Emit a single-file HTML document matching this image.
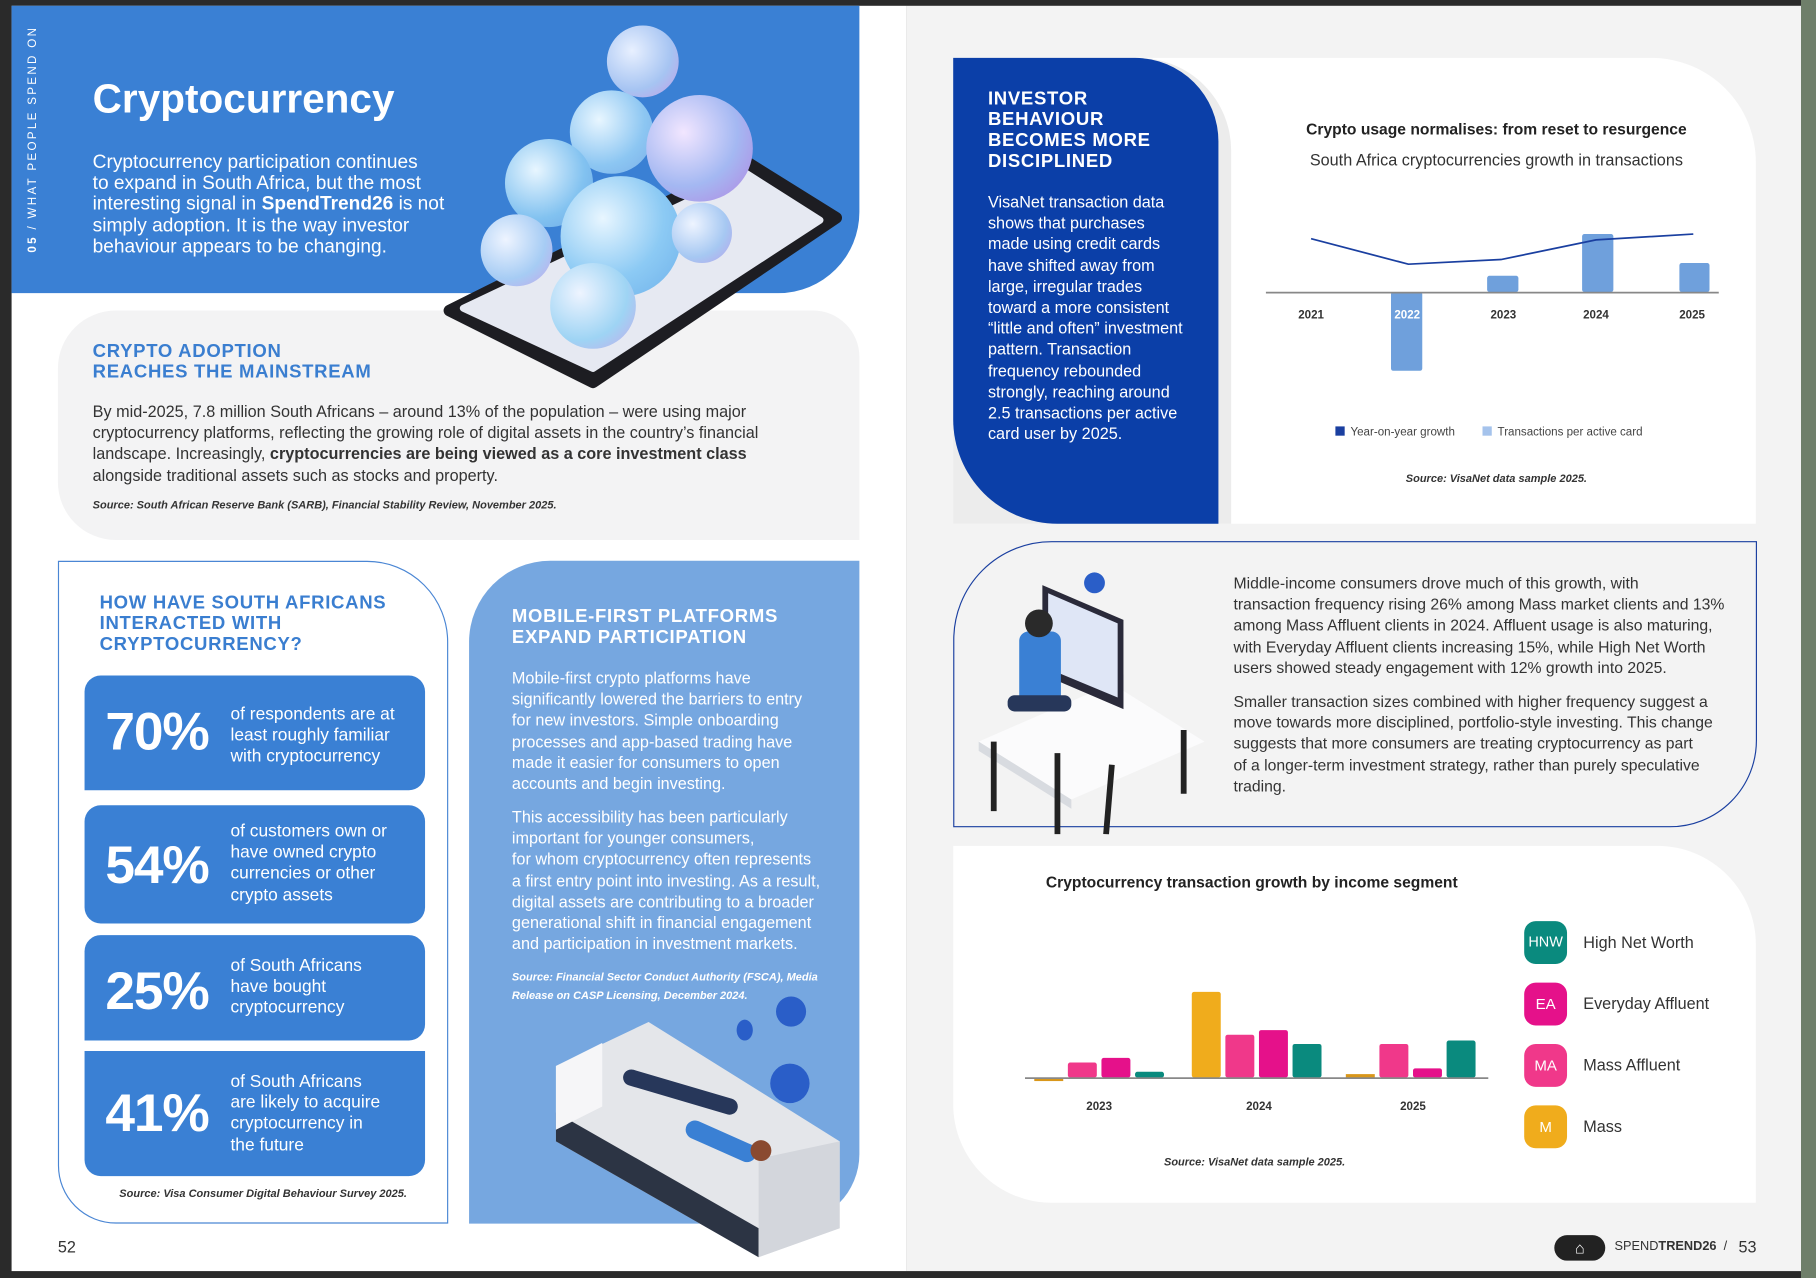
<!DOCTYPE html>
<html><head><meta charset="utf-8">
<style>
*{margin:0;padding:0;box-sizing:border-box}
html,body{width:1816px;height:1278px;overflow:hidden;background:#2a2a2a}
#s{position:absolute;left:0;top:0;width:1568px;height:1103px;transform:scale(1.1582,1.1587);transform-origin:0 0;font-family:"Liberation Sans Narrow","Liberation Sans",sans-serif;color:#333}
.a{position:absolute}
.nw{white-space:nowrap}
.h{font-weight:bold;letter-spacing:0.6px;font-size:16px;line-height:18px}
.p{font-size:14px;line-height:18.2px}
.src{font-style:italic;font-weight:bold;font-size:9.5px;color:#333}
</style></head><body>
<div id="s">
<div class="a" style="left:10px;top:5px;width:773px;height:1092px;background:#fff"></div>
<div class="a" style="left:783px;top:5px;width:772px;height:1092px;background:#f3f3f3"></div>
<div class="a" style="left:1555px;top:0;width:13px;height:1103px;background:#6f7f6a"></div>

<div class="a" style="left:10px;top:5px;width:732px;height:248px;background:#3a80d4;border-bottom-right-radius:70px"></div>
<div class="a nw" style="left:23px;top:218px;transform:rotate(-90deg);transform-origin:0 0;color:#fff;font-family:'Liberation Sans',sans-serif;font-size:10px;letter-spacing:2px;width:180px"><b>05</b> / WHAT PEOPLE SPEND ON</div>
<div class="a nw" style="left:80px;top:66px;color:#fff;font-size:35px;font-weight:bold">Cryptocurrency</div>
<div class="a nw" style="left:80px;top:131px;color:#fff;font-size:16.5px;line-height:18.2px">Cryptocurrency participation continues<br>to expand in South Africa, but the most<br>interesting signal in <b>SpendTrend26</b> is not<br>simply adoption. It is the way investor<br>behaviour appears to be changing.</div>

<div class="a" style="left:50px;top:268px;width:692px;height:198px;background:#f3f3f4;border-radius:50px 40px 0 50px"></div>
<!-- phone -->
<svg class="a" style="left:380px;top:130px" width="350" height="210" viewBox="380 130 350 210">
<polygon points="645,140 722,188 512,330 388,268" fill="#1d1d22" stroke="#1d1d22" stroke-width="10" stroke-linejoin="round"/>
<polygon points="645,150 708,190 512,318 400,266" fill="#e6e9f2" stroke="#e6e9f2" stroke-width="6" stroke-linejoin="round"/>
</svg>
<div class="a" style="left:524px;top:22px;width:62px;height:62px;border-radius:50%;background:radial-gradient(circle at 35% 35%,#e8f0ff,#a6c4f2 60%,#c59be6)"></div>
<div class="a" style="left:492px;top:78px;width:72px;height:72px;border-radius:50%;background:radial-gradient(circle at 35% 35%,#e8f6ff,#8cc6f2 60%,#7aaee8)"></div>
<div class="a" style="left:558px;top:82px;width:92px;height:92px;border-radius:50%;background:radial-gradient(circle at 35% 35%,#f2e6ff,#a4b8f2 55%,#b383e0)"></div>
<div class="a" style="left:436px;top:120px;width:76px;height:76px;border-radius:50%;background:radial-gradient(circle at 35% 35%,#e8f6ff,#82c2f0 60%,#6aa6e6)"></div>
<div class="a" style="left:484px;top:152px;width:104px;height:104px;border-radius:50%;background:radial-gradient(circle at 35% 35%,#e8f6ff,#8ccaf4 55%,#6eb0ea)"></div>
<div class="a" style="left:580px;top:175px;width:52px;height:52px;border-radius:50%;background:radial-gradient(circle at 35% 35%,#eef4ff,#a6c8f2 60%,#b6a0ea)"></div>
<div class="a" style="left:415px;top:185px;width:62px;height:62px;border-radius:50%;background:radial-gradient(circle at 35% 35%,#eef4ff,#a6ccf4 60%,#c4a4ea)"></div>
<div class="a" style="left:475px;top:227px;width:74px;height:74px;border-radius:50%;background:radial-gradient(circle at 35% 35%,#eef4ff,#9ed4f4 60%,#c6a8ea)"></div>

<div class="a nw h" style="left:80px;top:295px;color:#3a7ed0">CRYPTO ADOPTION<br>REACHES THE MAINSTREAM</div>
<div class="a nw p" style="left:80px;top:346px;color:#333">By mid-2025, 7.8 million South Africans – around 13% of the population – were using major<br>cryptocurrency platforms, reflecting the growing role of digital assets in the country’s financial<br>landscape. Increasingly, <b>cryptocurrencies are being viewed as a core investment class</b><br>alongside traditional assets such as stocks and property.</div>
<div class="a nw src" style="left:80px;top:431px">Source: South African Reserve Bank (SARB), Financial Stability Review, November 2025.</div>

<div class="a" style="left:50px;top:484px;width:337px;height:572px;border:1px solid #4a86d4;border-radius:0 70px 0 50px"></div>
<div class="a nw h" style="left:86px;top:512px;color:#3a7ed0">HOW HAVE SOUTH AFRICANS<br>INTERACTED WITH<br>CRYPTOCURRENCY?</div>

<div class="a" style="left:73px;top:583px;width:294px;height:99px;background:#3a80d4;border-radius:14px 14px 14px 0"></div>
<div class="a nw" style="left:91px;top:604px;color:#fff;font-size:46px;font-weight:bold;letter-spacing:-1px">70%</div>
<div class="a nw" style="left:199px;top:608px;color:#fff;font-size:15px;line-height:18.2px">of respondents are at<br>least roughly familiar<br>with cryptocurrency</div>

<div class="a" style="left:73px;top:695px;width:294px;height:102px;background:#3a80d4;border-radius:14px"></div>
<div class="a nw" style="left:91px;top:719px;color:#fff;font-size:46px;font-weight:bold;letter-spacing:-1px">54%</div>
<div class="a nw" style="left:199px;top:709px;color:#fff;font-size:15px;line-height:18.2px">of customers own or<br>have owned crypto<br>currencies or other<br>crypto assets</div>

<div class="a" style="left:73px;top:807px;width:294px;height:91px;background:#3a80d4;border-radius:14px 14px 14px 0"></div>
<div class="a nw" style="left:91px;top:828px;color:#fff;font-size:46px;font-weight:bold;letter-spacing:-1px">25%</div>
<div class="a nw" style="left:199px;top:825px;color:#fff;font-size:15px;line-height:18.2px">of South Africans<br>have bought<br>cryptocurrency</div>

<div class="a" style="left:73px;top:907px;width:294px;height:108px;background:#3a80d4;border-radius:0 0 14px 14px"></div>
<div class="a nw" style="left:91px;top:933px;color:#fff;font-size:46px;font-weight:bold;letter-spacing:-1px">41%</div>
<div class="a nw" style="left:199px;top:925px;color:#fff;font-size:15px;line-height:18.2px">of South Africans<br>are likely to acquire<br>cryptocurrency in<br>the future</div>
<div class="a nw src" style="left:103px;top:1025px">Source: Visa Consumer Digital Behaviour Survey 2025.</div>

<div class="a" style="left:405px;top:484px;width:337px;height:572px;background:#76a7e0;border-radius:70px 0 60px 0"></div>
<div class="a nw h" style="left:442px;top:524px;color:#fff">MOBILE-FIRST PLATFORMS<br>EXPAND PARTICIPATION</div>
<div class="a nw p" style="left:442px;top:576px;color:#fff">Mobile-first crypto platforms have<br>significantly lowered the barriers to entry<br>for new investors. Simple onboarding<br>processes and app-based trading have<br>made it easier for consumers to open<br>accounts and begin investing.</div>
<div class="a nw p" style="left:442px;top:696px;color:#fff">This accessibility has been particularly<br>important for younger consumers,<br>for whom cryptocurrency often represents<br>a first entry point into investing. As a result,<br>digital assets are contributing to a broader<br>generational shift in financial engagement<br>and participation in investment markets.</div>
<div class="a nw src" style="left:442px;top:836px;color:#fff;line-height:16px">Source: Financial Sector Conduct Authority (FSCA), Media<br>Release on CASP Licensing, December 2024.</div>
<!-- sofa -->
<svg class="a" style="left:470px;top:870px" width="280" height="220" viewBox="470 870 280 220">
<polygon points="480,920 560,882 725,985 725,1060 655,1085 480,985" fill="#e4e6ea"/>
<polygon points="480,985 655,1085 655,1060 480,960" fill="#2c3444"/>
<polygon points="480,920 520,900 520,955 480,975" fill="#f6f6f8"/>
<polygon points="655,1000 725,985 725,1060 655,1085" fill="#d3d6dc"/>
<line x1="545" y1="930" x2="630" y2="955" stroke="#27375a" stroke-width="14" stroke-linecap="round"/>
<line x1="600" y1="975" x2="645" y2="995" stroke="#3a80d4" stroke-width="16" stroke-linecap="round"/>
<circle cx="657" cy="993" r="9" fill="#8a4a30"/>
</svg>
<div class="a" style="left:670px;top:860px;width:26px;height:26px;border-radius:50%;background:#2a5ec8"></div>
<div class="a" style="left:665px;top:918px;width:34px;height:34px;border-radius:50%;background:#2a5ec8"></div>
<div class="a" style="left:636px;top:880px;width:14px;height:18px;border-radius:50%;background:#2a5ec8"></div>
<div class="a nw" style="left:50px;top:1068px;font-size:14px;color:#333">52</div>

<div class="a" style="left:823px;top:50px;width:693px;height:402px;background:#fff;border-radius:0 90px 0 0"></div>
<div class="a" style="left:823px;top:50px;width:240px;height:402px;background:#ececec;border-radius:0 80px 0 0"></div>
<div class="a" style="left:823px;top:50px;width:229px;height:402px;background:#0b3fa8;border-radius:0 72px 0 90px"></div>
<div class="a nw h" style="left:853px;top:77px;color:#fff">INVESTOR<br>BEHAVIOUR<br>BECOMES MORE<br>DISCIPLINED</div>
<div class="a nw p" style="left:853px;top:165px;color:#fff">VisaNet transaction data<br>shows that purchases<br>made using credit cards<br>have shifted away from<br>large, irregular trades<br>toward a more consistent<br>“little and often” investment<br>pattern. Transaction<br>frequency rebounded<br>strongly, reaching around<br>2.5 transactions per active<br>card user by 2025.</div>
<div class="a nw" style="left:1092px;top:104px;width:400px;text-align:center;font-size:13.5px;font-weight:bold;color:#222">Crypto usage normalises: from reset to resurgence</div>
<div class="a nw" style="left:1092px;top:130px;width:400px;text-align:center;font-size:14px;color:#333">South Africa cryptocurrencies growth in transactions</div>
<svg class="a" style="left:1080px;top:190px" width="420" height="200" viewBox="1080 190 420 200">
<rect x="1201" y="252" width="27" height="68" fill="#6fa0dc" rx="2"/>
<rect x="1284" y="238" width="27" height="14" fill="#6fa0dc" rx="2"/>
<rect x="1366" y="202" width="27" height="50" fill="#6fa0dc" rx="2"/>
<rect x="1450" y="227" width="26" height="25" fill="#6fa0dc" rx="2"/>
<line x1="1093" y1="252.5" x2="1484" y2="252.5" stroke="#888" stroke-width="1.5"/>
<polyline points="1132,206 1216,228 1296,224 1378,207 1462,202" fill="none" stroke="#1a3fa0" stroke-width="1.5"/>
<g font-family="Liberation Sans Narrow,Liberation Sans,sans-serif" font-size="10" font-weight="bold" text-anchor="middle" fill="#333">
<text x="1132" y="275">2021</text><text x="1215" y="275" fill="#fff">2022</text><text x="1298" y="275">2023</text><text x="1378" y="275">2024</text><text x="1461" y="275">2025</text></g>
<rect x="1153" y="368" width="8" height="8" fill="#1a3fa0"/>
<rect x="1280" y="368" width="8" height="8" fill="#a5c3ec"/>
<g font-family="Liberation Sans Narrow,Liberation Sans,sans-serif" font-size="10" fill="#444"><text x="1166" y="376">Year-on-year growth</text><text x="1293" y="376">Transactions per active card</text></g>
</svg>
<div class="a nw src" style="left:1092px;top:408px;width:400px;text-align:center">Source: VisaNet data sample 2025.</div>

<div class="a" style="left:823px;top:467px;width:694px;height:247px;border:1.5px solid #1a3fa0;border-radius:85px 0 75px 0;background:#f3f3f3"></div>
<!-- desk illustration -->
<svg class="a" style="left:835px;top:480px" width="220" height="240" viewBox="835 480 220 240">
<polygon points="845,640 960,590 1040,640 925,690" fill="#fbfbfc"/>
<polygon points="845,640 925,690 925,698 845,648" fill="#d8dbe0"/>
<polygon points="900,505 970,535 970,612 900,582" fill="#2a2a3a"/>
<polygon points="905,512 965,538 965,602 905,577" fill="#dfe6f6"/>
<rect x="880" y="545" width="36" height="65" rx="8" fill="#3a80d4"/>
<rect x="870" y="600" width="55" height="14" rx="6" fill="#27375a"/>
<circle cx="897" cy="538" r="12" fill="#2a2a2a"/>
<line x1="858" y1="640" x2="858" y2="700" stroke="#222" stroke-width="5"/>
<line x1="913" y1="650" x2="913" y2="720" stroke="#222" stroke-width="5"/>
<line x1="1022" y1="630" x2="1022" y2="685" stroke="#222" stroke-width="5"/>
<line x1="960" y1="660" x2="955" y2="720" stroke="#222" stroke-width="5"/>
<circle cx="945" cy="503" r="9" fill="#2a5ec8"/>
</svg>
<div class="a nw p" style="left:1065px;top:495px;color:#333;font-size:13.6px">Middle-income consumers drove much of this growth, with<br>transaction frequency rising 26% among Mass market clients and 13%<br>among Mass Affluent clients in 2024. Affluent usage is also maturing,<br>with Everyday Affluent clients increasing 15%, while High Net Worth<br>users showed steady engagement with 12% growth into 2025.</div>
<div class="a nw p" style="left:1065px;top:597px;color:#333;font-size:13.6px">Smaller transaction sizes combined with higher frequency suggest a<br>move towards more disciplined, portfolio-style investing. This change<br>suggests that more consumers are treating cryptocurrency as part<br>of a longer-term investment strategy, rather than purely speculative<br>trading.</div>

<div class="a" style="left:823px;top:730px;width:693px;height:308px;background:#fff;border-radius:0 85px 0 85px"></div>
<div class="a nw" style="left:903px;top:754px;font-size:13.5px;font-weight:bold;color:#222">Cryptocurrency transaction growth by income segment</div>
<svg class="a" style="left:880px;top:840px" width="410" height="130" viewBox="880 840 410 130">
<rect x="893" y="930" width="25" height="3" fill="#d9971a"/>
<rect x="922" y="917" width="25" height="13" fill="#f0388a" rx="2"/>
<rect x="951" y="913" width="25" height="17" fill="#e5118a" rx="2"/>
<rect x="980" y="925" width="25" height="5" fill="#0a8a7e" rx="2"/>
<rect x="1029" y="856" width="25" height="74" fill="#f0ac1c" rx="2"/>
<rect x="1058" y="893" width="25" height="37" fill="#f0388a" rx="2"/>
<rect x="1087" y="889" width="25" height="41" fill="#e5118a" rx="2"/>
<rect x="1116" y="901" width="25" height="29" fill="#0a8a7e" rx="2"/>
<rect x="1162" y="927" width="25" height="3" fill="#d9971a"/>
<rect x="1191" y="901" width="25" height="29" fill="#f0388a" rx="2"/>
<rect x="1220" y="922" width="25" height="8" fill="#e5118a" rx="2"/>
<rect x="1249" y="898" width="25" height="32" fill="#0a8a7e" rx="2"/>
<line x1="885" y1="930.5" x2="1285" y2="930.5" stroke="#888" stroke-width="1.5"/>
<g font-family="Liberation Sans Narrow,Liberation Sans,sans-serif" font-size="10" font-weight="bold" text-anchor="middle" fill="#333"><text x="949" y="958">2023</text><text x="1087" y="958">2024</text><text x="1220" y="958">2025</text></g>
</svg>
<div class="a nw src" style="left:1005px;top:998px">Source: VisaNet data sample 2025.</div>
<div class="a" style="left:1316px;top:795px;width:37px;height:37px;border-radius:10px;background:#0a8a7e;color:#fff;font-size:12.5px;text-align:center;line-height:37px">HNW</div>
<div class="a" style="left:1316px;top:848px;width:37px;height:37px;border-radius:10px;background:#e5118a;color:#fff;font-size:13px;text-align:center;line-height:37px">EA</div>
<div class="a" style="left:1316px;top:901px;width:37px;height:37px;border-radius:10px;background:#f0388a;color:#fff;font-size:13px;text-align:center;line-height:37px">MA</div>
<div class="a" style="left:1316px;top:954px;width:37px;height:37px;border-radius:10px;background:#f0ac1c;color:#fff;font-size:13px;text-align:center;line-height:37px">M</div>
<div class="a nw" style="left:1367px;top:805px;font-size:14px;color:#333">High Net Worth</div>
<div class="a nw" style="left:1367px;top:858px;font-size:14px;color:#333">Everyday Affluent</div>
<div class="a nw" style="left:1367px;top:911px;font-size:14px;color:#333">Mass Affluent</div>
<div class="a nw" style="left:1367px;top:964px;font-size:14px;color:#333">Mass</div>

<div class="a" style="left:1342px;top:1066px;width:44px;height:22px;border-radius:11px;background:#222;color:#fff;text-align:center;font-size:14px;line-height:22px">⌂</div>
<div class="a nw" style="left:1394px;top:1070px;font-size:11px;color:#333">SPEND<b>TREND26</b> &nbsp;/</div>
<div class="a nw" style="left:1501px;top:1068px;font-size:14px;color:#333">53</div>
</div>
</body></html>
